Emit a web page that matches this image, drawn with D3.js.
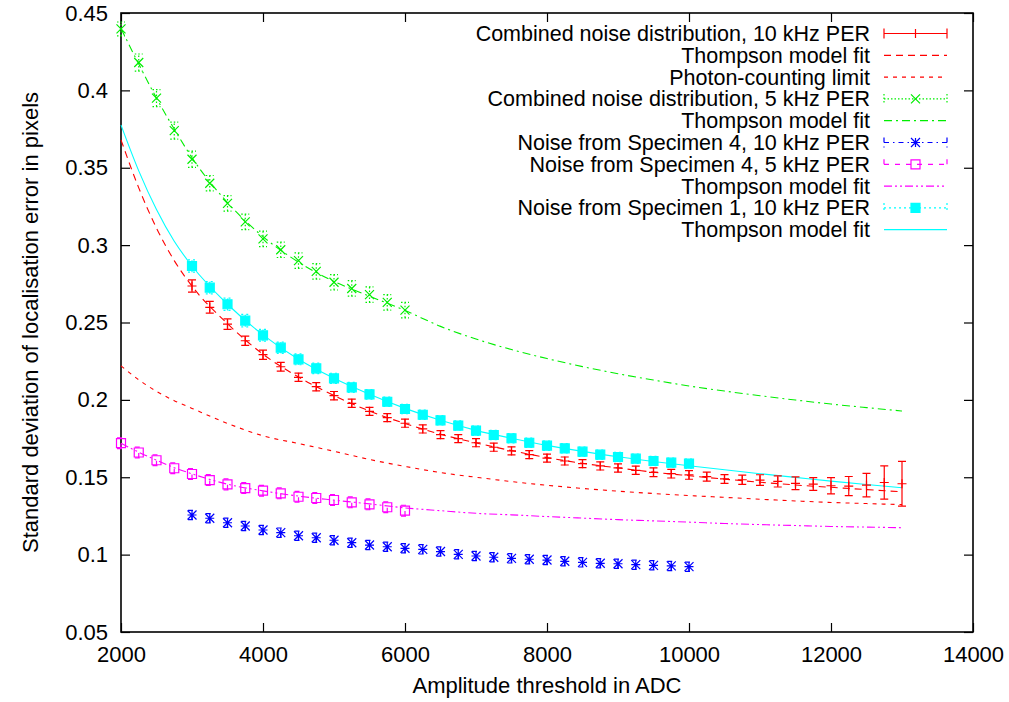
<!DOCTYPE html>
<html>
<head>
<meta charset="utf-8">
<script src="https://cdn.jsdelivr.net/npm/d3@7"></script>
<style>
body { margin: 0; background: #fff; }
svg text { font-family: "Liberation Sans", Arial, Helvetica, sans-serif; font-size: 22px; fill: #000; }
svg .key text { font-size: 21.5px; }
</style>
</head>
<body>
<div class="chart"></div>
<script>
// ticks
const xTicks = [2000, 4000, 6000, 8000, 10000, 12000, 14000];
const yTicks = [0.05, 0.1, 0.15, 0.2, 0.25, 0.3, 0.35, 0.4, 0.45];

// thresholds (ADC)
const thr10 = [3000, 3250, 3500, 3750, 4000, 4250, 4500, 4750, 5000, 5250, 5500, 5750, 6000, 6250, 6500, 6750,
  7000, 7250, 7500, 7750, 8000, 8250, 8500, 8750, 9000, 9250, 9500, 9750, 10000, 10250, 10500, 10750,
  11000, 11250, 11500, 11750, 12000, 12250, 12500, 12750, 13000];
const thrSpec = [3000, 3250, 3500, 3750, 4000, 4250, 4500, 4750, 5000, 5250, 5500, 5750, 6000, 6250, 6500, 6750,
  7000, 7250, 7500, 7750, 8000, 8250, 8500, 8750, 9000, 9250, 9500, 9750, 10000];
const thr5 = [2000, 2250, 2500, 2750, 3000, 3250, 3500, 3750, 4000, 4250, 4500, 4750, 5000, 5250, 5500, 5750, 6000];
const fitX = [2000, 2250, 2500, 2750, 3000, 3500, 4000, 4500, 5000, 5500, 6000, 6500, 7000, 7500, 8000, 8500,
  9000, 9500, 10000, 10500, 11000, 11500, 12000, 12500, 13000];

// combined noise, 10 kHz PER
const comb10 = [0.2736, 0.2598, 0.2490, 0.2382, 0.2292, 0.2214, 0.2146, 0.2085, 0.2027, 0.1978, 0.1926, 0.1885,
  0.1849, 0.1812, 0.1775, 0.1750, 0.1723, 0.1694, 0.1670, 0.1646, 0.1624, 0.1605, 0.1588, 0.1573, 0.1560,
  0.1545, 0.1532, 0.1523, 0.1515, 0.1504, 0.1489, 0.1484, 0.1482, 0.1473, 0.1461, 0.1456, 0.1445, 0.1443,
  0.1449, 0.1466, 0.1458];
const comb10Err = [0.0040, 0.0038, 0.0034, 0.0030, 0.0030, 0.0028, 0.0027, 0.0027, 0.0027, 0.0027, 0.0026, 0.0026,
  0.0026, 0.0026, 0.0026, 0.0026, 0.0026, 0.0026, 0.0026, 0.0026, 0.0026, 0.0026, 0.0026, 0.0026, 0.0027,
  0.0027, 0.0028, 0.0028, 0.0028, 0.0029, 0.0028, 0.0030, 0.0034, 0.0036, 0.0041, 0.0041, 0.0053, 0.0062,
  0.0076, 0.0107, 0.0145];
const fit10 = [0.368, 0.337, 0.311, 0.290, 0.2735, 0.2492, 0.2295, 0.2148, 0.2028, 0.1928, 0.1847, 0.1778, 0.1722,
  0.1672, 0.1627, 0.1590, 0.1560, 0.1533, 0.1510, 0.1488, 0.1468, 0.1450, 0.1435, 0.1420, 0.1406];
const photon = [0.222, 0.2130, 0.2055, 0.1995, 0.1945, 0.1848, 0.1768, 0.1718, 0.1668, 0.1615, 0.1570, 0.1530,
  0.1500, 0.1472, 0.1448, 0.1428, 0.1410, 0.1395, 0.1382, 0.1370, 0.1358, 0.1347, 0.1337, 0.1330, 0.1323];

// combined noise, 5 kHz PER
const comb5 = [0.4397, 0.418, 0.395, 0.374, 0.3555, 0.340, 0.327, 0.315, 0.304, 0.297, 0.290, 0.283, 0.276,
  0.272, 0.268, 0.263, 0.258];
const comb5Err = [0.0045, 0.0055, 0.0055, 0.0055, 0.0052, 0.005, 0.005, 0.005, 0.005, 0.005, 0.005, 0.005, 0.005,
  0.005, 0.005, 0.005, 0.005];
const fit5 = [0.440, 0.417, 0.395, 0.375, 0.3565, 0.3275, 0.3055, 0.289, 0.2765, 0.2670, 0.2578, 0.2475, 0.2393,
  0.2325, 0.2267, 0.2215, 0.2169, 0.2128, 0.2090, 0.2057, 0.2027, 0.1999, 0.1973, 0.1950, 0.1928];

// specimen 4, 10 kHz
const spec4a = [0.1256, 0.1235, 0.1206, 0.1185, 0.1159, 0.1142, 0.1122, 0.1109, 0.1093, 0.1077, 0.1062, 0.1051,
  0.1041, 0.1034, 0.1020, 0.1002, 0.0991, 0.0983, 0.0976, 0.0970, 0.0965, 0.0957, 0.0950, 0.0944, 0.0941,
  0.0935, 0.0931, 0.0927, 0.0922];
const spec4aErr = [0.003, 0.003, 0.003, 0.003, 0.003, 0.003, 0.003, 0.003, 0.003, 0.003, 0.003, 0.003, 0.003,
  0.003, 0.003, 0.003, 0.003, 0.003, 0.003, 0.003, 0.003, 0.003, 0.003, 0.003, 0.003, 0.003, 0.003, 0.003, 0.003];

// specimen 4, 5 kHz
const spec4b = [0.172, 0.166, 0.161, 0.1558, 0.1521, 0.1482, 0.1454, 0.1430, 0.1413, 0.1396, 0.1374, 0.1366,
  0.1353, 0.1338, 0.1325, 0.1306, 0.1284];
const spec4bErr = [0.0035, 0.0035, 0.0035, 0.0035, 0.0035, 0.0035, 0.0035, 0.0035, 0.0035, 0.0035, 0.0035,
  0.0035, 0.0035, 0.0035, 0.0035, 0.0035, 0.0035];
const fit4b = [0.172, 0.1662, 0.161, 0.1562, 0.1522, 0.1455, 0.1412, 0.1378, 0.1352, 0.1328, 0.1302, 0.1284,
  0.1267, 0.1257, 0.1246, 0.1236, 0.1226, 0.1218, 0.1210, 0.1201, 0.1194, 0.1188, 0.1182, 0.1178, 0.1174];

// specimen 1, 10 kHz
const spec1 = [0.2865, 0.2725, 0.2618, 0.2512, 0.2417, 0.2337, 0.2262, 0.2204, 0.2139, 0.2081, 0.2036, 0.1988,
  0.1941, 0.1904, 0.1868, 0.1834, 0.1801, 0.1773, 0.1752, 0.1723, 0.1704, 0.1687, 0.1665, 0.1646, 0.1631,
  0.1620, 0.1605, 0.1594, 0.1588];
const spec1Err = [0.004, 0.004, 0.004, 0.004, 0.0038, 0.0036, 0.0035, 0.0034, 0.0033, 0.0032, 0.0031, 0.003,
  0.003, 0.003, 0.003, 0.003, 0.003, 0.003, 0.003, 0.003, 0.003, 0.003, 0.003, 0.003, 0.003, 0.003, 0.003, 0.003, 0.003];
const fit1 = [0.3776, 0.348, 0.323, 0.3025, 0.2865, 0.2618, 0.2420, 0.2262, 0.2139, 0.2036, 0.1945, 0.1868,
  0.1803, 0.1752, 0.1706, 0.1667, 0.1632, 0.1602, 0.1574, 0.1548, 0.1523, 0.1499, 0.1475, 0.1453, 0.1432];

const legendLabels = [
  "Combined noise distribution, 10 kHz PER",
  "Thompson model fit",
  "Photon-counting limit",
  "Combined noise distribution, 5 kHz PER",
  "Thompson model fit",
  "Noise from Specimen 4, 10 kHz PER",
  "Noise from Specimen 4, 5 kHz PER",
  "Thompson model fit",
  "Noise from Specimen 1, 10 kHz PER",
  "Thompson model fit"
];

// styles
const RED = "#ff0000", GREEN = "#00ee00", BLUE = "#0000ff", MAG = "#ff00ff", CYAN = "#00ffff";
const DASH = "7,5", DOTS = "4,5", FINE = "1.5,2", DASHDOT = "8,4,2,4", BLUEDASH = "5,4,1.5,4",
  MAGDASH = "5,6", DASHDOTDOT = "8,3,2,3,2,3", CYANDOT = "2,3";

const W = 1009, H = 702;
const margin = {top: 13, right: 36, bottom: 70, left: 121};

const svg = d3.select(".chart").append("svg")
  .attr("width", W)
  .attr("height", H);

const x = d3.scaleLinear().domain([2000, 14000]).range([margin.left, W - margin.right]);
const y = d3.scaleLinear().domain([0.05, 0.45]).range([H - margin.bottom, margin.top]);

// axes, ticks pointing inward on all four sides
const fmt = d3.format("~g");
svg.append("g")
  .attr("transform", `translate(0,${H - margin.bottom})`)
  .call(d3.axisBottom(x).tickValues(xTicks).tickFormat(fmt).tickSize(-9).tickPadding(14))
  .call(g => g.select(".domain").remove());
svg.append("g")
  .attr("transform", `translate(0,${margin.top})`)
  .call(d3.axisTop(x).tickValues(xTicks).tickFormat("").tickSize(-9))
  .call(g => g.select(".domain").remove());
svg.append("g")
  .attr("transform", `translate(${margin.left},0)`)
  .call(d3.axisLeft(y).tickValues(yTicks).tickFormat(fmt).tickSize(-9).tickPadding(13))
  .call(g => g.select(".domain").remove());
svg.append("g")
  .attr("transform", `translate(${W - margin.right},0)`)
  .call(d3.axisRight(y).tickValues(yTicks).tickFormat("").tickSize(-9))
  .call(g => g.select(".domain").remove());
svg.selectAll(".tick line").attr("stroke", "#000").attr("stroke-width", 1.2);
svg.selectAll(".tick text").attr("font-size", null).attr("font-family", null);

svg.append("rect")
  .attr("x", x(2000)).attr("y", y(0.45))
  .attr("width", x(14000) - x(2000)).attr("height", y(0.05) - y(0.45))
  .attr("fill", "none").attr("stroke", "#000").attr("stroke-width", 1.6);

// axis titles
svg.append("text")
  .attr("x", (x(2000) + x(14000)) / 2).attr("y", 693)
  .attr("text-anchor", "middle")
  .text("Amplitude threshold in ADC");
svg.append("text")
  .attr("transform", `translate(30,${(y(0.05) + y(0.45)) / 2}) rotate(-90)`)
  .attr("text-anchor", "middle")
  .attr("dy", "0.35em")
  .text("Standard deviation of localisation error in pixels");

// point shapes
const S = 4.5;
function shapePath(type, cx, cy) {
  const plus = `M${cx - S},${cy}H${cx + S}M${cx},${cy - S}V${cy + S}`;
  const cross = `M${cx - S},${cy - S}L${cx + S},${cy + S}M${cx - S},${cy + S}L${cx + S},${cy - S}`;
  if (type == "plus") return plus;
  if (type == "cross") return cross;
  if (type == "star") return plus + cross;
  return `M${cx - S},${cy - S}H${cx + S}V${cy + S}H${cx - S}Z`;
}

function drawPoints(xs, ys, type, color) {
  const d = xs.map((v, i) => ({x: v, y: ys[i]}));
  svg.append("g").selectAll("path")
    .data(d)
    .enter()
    .append("path")
    .attr("d", p => shapePath(type, x(p.x), y(p.y)))
    .attr("stroke", color)
    .attr("stroke-width", 1.2)
    .attr("fill", type == "filled" ? color : "none");
}

function drawErrors(xs, ys, es, color, dash) {
  const d = xs.map((v, i) => ({x: v, y: ys[i], e: es[i]}));
  const g = svg.append("g")
    .attr("stroke", color)
    .attr("stroke-width", 1.2)
    .attr("stroke-dasharray", dash)
    .attr("fill", "none");
  g.selectAll("path")
    .data(d)
    .enter()
    .append("path")
    .attr("d", p => {
      const cx = x(p.x), y0 = y(p.y - p.e), y1 = y(p.y + p.e);
      return `M${cx},${y0}V${y1}M${cx - 4},${y0}H${cx + 4}M${cx - 4},${y1}H${cx + 4}`;
    });
}

const line = d3.line()
  .x(d => x(d.x))
  .y(d => y(d.y))
  .curve(d3.curveMonotoneX);

function drawFit(xs, ys, color, dash) {
  svg.append("path")
    .datum(xs.map((v, i) => ({x: v, y: ys[i]})))
    .attr("d", line)
    .attr("fill", "none")
    .attr("stroke", color)
    .attr("stroke-width", 1.1)
    .attr("stroke-dasharray", dash);
}

// fits and limits
drawFit(fitX, photon, RED, DOTS);
drawFit(fitX, fit10, RED, DASH);
drawFit(fitX, fit5, GREEN, DASHDOT);
drawFit(fitX, fit4b, MAG, DASHDOTDOT);
drawFit(fitX, fit1, CYAN, null);

// measured series
drawErrors(thr10, comb10, comb10Err, RED, null);
drawPoints(thr10, comb10, "plus", RED);
drawErrors(thr5, comb5, comb5Err, GREEN, FINE);
drawPoints(thr5, comb5, "cross", GREEN);
drawErrors(thrSpec, spec4a, spec4aErr, BLUE, BLUEDASH);
drawPoints(thrSpec, spec4a, "star", BLUE);
drawErrors(thr5, spec4b, spec4bErr, MAG, MAGDASH);
drawPoints(thr5, spec4b, "square", MAG);
drawErrors(thrSpec, spec1, spec1Err, CYAN, CYANDOT);
drawPoints(thrSpec, spec1, "filled", CYAN);

// legend
const keyStyle = [
  {color: RED, dash: null, point: "plus", bars: true},
  {color: RED, dash: DASH},
  {color: RED, dash: DOTS},
  {color: GREEN, dash: FINE, point: "cross", bars: true},
  {color: GREEN, dash: DASHDOT},
  {color: BLUE, dash: BLUEDASH, point: "star", bars: true},
  {color: MAG, dash: MAGDASH, point: "square", bars: true},
  {color: MAG, dash: DASHDOTDOT},
  {color: CYAN, dash: CYANDOT, point: "filled", bars: true},
  {color: CYAN, dash: null}
];
const keyTextX = 870, keyX0 = 884, keyX1 = 947, keyY0 = 33.5, keyStep = 21.8;

const key = svg.append("g").attr("class", "key").selectAll("g")
  .data(legendLabels)
  .enter()
  .append("g")
  .attr("transform", (d, i) => `translate(0,${keyY0 + i * keyStep})`);

key.append("text")
  .attr("x", keyTextX)
  .attr("y", 7.5)
  .attr("text-anchor", "end")
  .text(d => d);

key.append("path")
  .attr("d", (d, i) => {
    let p = `M${keyX0},0H${keyX1}`;
    if (keyStyle[i].bars) p += `M${keyX0},-5V5M${keyX1},-5V5`;
    return p;
  })
  .attr("fill", "none")
  .attr("stroke", (d, i) => keyStyle[i].color)
  .attr("stroke-width", 1.2)
  .attr("stroke-dasharray", (d, i) => keyStyle[i].dash);

key.each(function(d, i) {
  const st = keyStyle[i];
  if (!st.point) return;
  d3.select(this).append("path")
    .attr("d", shapePath(st.point, (keyX0 + keyX1) / 2, 0))
    .attr("stroke", st.color)
    .attr("stroke-width", 1.2)
    .attr("fill", st.point == "filled" ? st.color : "none");
});
</script>
</body>
</html>
